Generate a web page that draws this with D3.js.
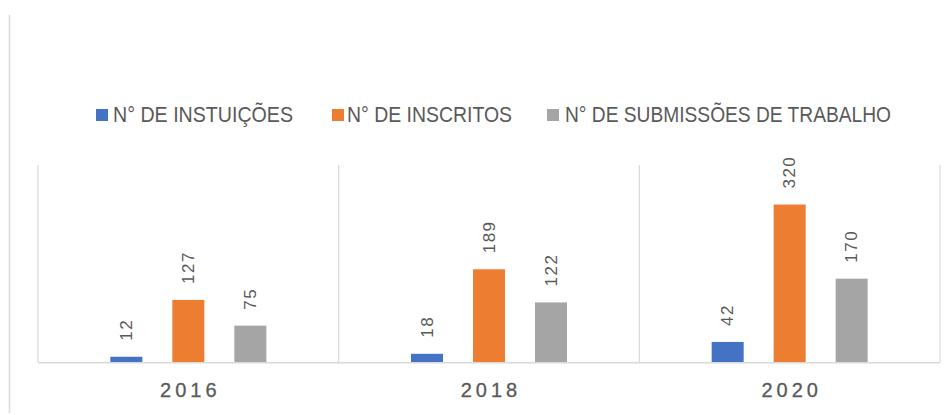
<!DOCTYPE html>
<html>
<head>
<meta charset="utf-8">
<script src="https://cdn.jsdelivr.net/npm/d3@7/dist/d3.min.js"></script>
<style>
  html, body { margin: 0; padding: 0; background: #fff; }
  svg { display: block; }
</style>
</head>
<body>
<svg id="chart" width="948" height="415"></svg>
<script>
const years = ["2016", "2018", "2020"];
const seriesNames = ["N° DE INSTUIÇÕES", "N° DE INSCRITOS", "N° DE SUBMISSÕES DE TRABALHO"];
const instituicoes = [12, 18, 42];
const inscritos = [127, 189, 320];
const submissoes = [75, 122, 170];
const colors = ["#4472C4", "#ED7D31", "#A5A5A5"];
const seriesValues = [instituicoes, inscritos, submissoes];

const svg = d3.select("#chart");
const plot = { left: 38, right: 940, top: 165, bottom: 362.7 };

// outer frame line on the left
svg.append("line")
  .attr("x1", 9.5).attr("x2", 9.5).attr("y1", 15).attr("y2", 413)
  .attr("stroke", "#d9d9d9").attr("stroke-width", 1.5);

const x0 = d3.scaleBand().domain(years).range([plot.left, plot.right]).padding(0);
const bw = x0.bandwidth();
const x1 = d3.scaleBand().domain(d3.range(3)).range([bw / 2 - 78, bw / 2 + 78]).paddingInner(30 / 62).paddingOuter(0);
const y = d3.scaleLinear().domain([0, 400]).range([plot.bottom, plot.top]);

// vertical category separators
const seps = years.map(d => x0(d)).concat([x0(years[years.length - 1]) + bw]);
svg.append("g").selectAll("line").data(seps).join("line")
  .attr("x1", d => d).attr("x2", d => d)
  .attr("y1", plot.top).attr("y2", plot.bottom)
  .attr("stroke", "#d9d9d9").attr("stroke-width", 1.2);

// bars
const groups = svg.append("g").selectAll("g").data(years).join("g")
  .attr("transform", d => `translate(${x0(d)},0)`);

groups.each(function (yr, i) {
  const g = d3.select(this);
  seriesValues.forEach((vals, s) => {
    const v = vals[i];
    g.append("rect")
      .attr("x", x1(s)).attr("width", x1.bandwidth())
      .attr("y", y(v)).attr("height", y(0) - y(v))
      .attr("fill", colors[s]);
    const cx = x1(s) + x1.bandwidth() / 2;
    const ty = y(v) - 16;
    g.append("text")
      .attr("transform", `translate(${cx},${ty}) rotate(-90)`)
      .attr("text-anchor", "start")
      .attr("dominant-baseline", "central")
      .attr("font-family", "Liberation Sans, Arial, sans-serif")
      .attr("font-size", 17)
      .attr("letter-spacing", 1.5)
      .attr("fill", "#595959")
      .text(v);
  });
});

// baseline
svg.append("line")
  .attr("x1", plot.left).attr("x2", plot.right)
  .attr("y1", plot.bottom).attr("y2", plot.bottom)
  .attr("stroke", "#d9d9d9").attr("stroke-width", 1.5);

// x axis labels
svg.append("g").selectAll("text").data(years).join("text")
  .attr("x", d => x0(d) + bw / 2 + 2)
  .attr("y", 396.5)
  .attr("text-anchor", "middle")
  .attr("font-family", "Liberation Sans, Arial, sans-serif")
  .attr("font-size", 20)
  .attr("letter-spacing", 4)
  .attr("fill", "#595959")
  .attr("stroke", "#595959")
  .attr("stroke-width", 0.3)
  .text(d => d);

// legend
const legendItems = [
  { sx: 96, tx: 113, len: 180 },
  { sx: 332, tx: 347, len: 165 },
  { sx: 547, tx: 565, len: 326 }
];
const lg = svg.append("g");
legendItems.forEach((it, i) => {
  lg.append("rect")
    .attr("x", it.sx).attr("y", 109).attr("width", 12).attr("height", 12)
    .attr("fill", colors[i]);
  lg.append("text")
    .attr("x", it.tx).attr("y", 122)
    .attr("font-family", "Liberation Sans, Arial, sans-serif")
    .attr("font-size", 22)
    .attr("textLength", it.len)
    .attr("lengthAdjust", "spacingAndGlyphs")
    .attr("fill", "#595959")
    .text(seriesNames[i]);
});
</script>
</body>
</html>
